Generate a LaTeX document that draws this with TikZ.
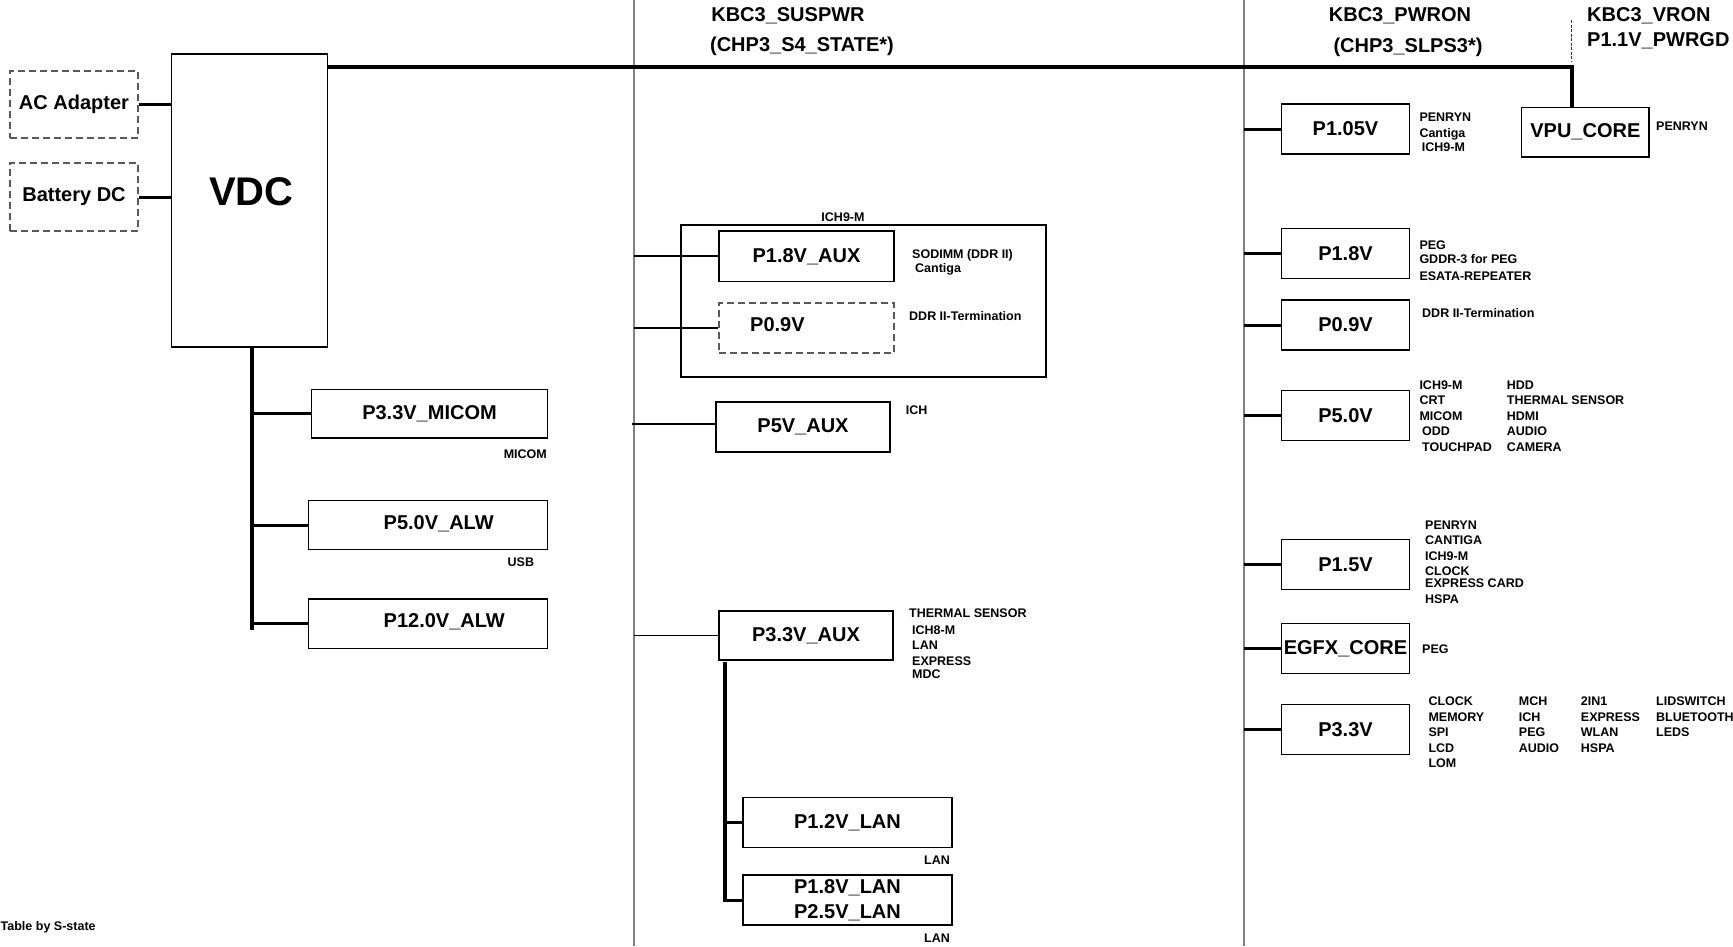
\documentclass[tikz,border=0pt]{standalone}
\usepackage{fontspec}
\setmainfont{Liberation Sans}
\newcommand{\boxfont}{\fontsize{20}{24.6}\selectfont\bfseries}
\newcommand{\lblfont}{\fontsize{12.5}{15}\selectfont\bfseries}
\newcommand{\vdcfont}{\fontsize{40}{44}\selectfont\bfseries}
\begin{document}
\begin{tikzpicture}[x=1pt,y=-1pt,
  box/.style={draw=black, line width=1.3pt, fill=white, inner sep=0pt, font=\boxfont},
  dbox/.style={box, draw=black!65, dash pattern=on 7pt off 4pt},
  rbox/.style={box, minimum width=127.6pt, minimum height=50pt},
  lbl/.style={inner sep=0pt, anchor=base west, font=\lblfont},
  ttl/.style={inner sep=0pt, anchor=base, font=\boxfont},
  colline/.style={draw=black!50, line width=1.2pt},
  wiretwo/.style={line width=1.8pt},
  wirethree/.style={line width=3pt},
  busline/.style={line width=4pt}]
\useasboundingbox (0,0) rectangle (1733,946);
\fill[white] (0,0) rectangle (1733,946);

% column separators
\coordinate (colAt) at (634,0); \coordinate (colAb) at (634,946);
\coordinate (colBt) at (1244,0); \coordinate (colBb) at (1244,946);
\draw[colline] (colAt) -- (colAb);
\draw[colline] (colBt) -- (colBb);

% titles
\node[ttl] (t1) at (788,21.7) {KBC3\_SUSPWR};
\node[ttl] (t2) at (802,51) {(CHP3\_S4\_STATE*)};
\node[ttl] (t3) at (1400,21.7) {KBC3\_PWRON};
\node[ttl] (t4) at (1408,52) {(CHP3\_SLPS3*)};
\node[ttl, anchor=base west] (t5) at (1587,21.7) {KBC3\_VRON};
\node[ttl, anchor=base west] (t6) at (1587,46.7) {P1.1V\_PWRGD};

% left part
\node[dbox, minimum width=128pt, minimum height=67pt] (ac) at (74,104.5) {AC Adapter};
\node[dbox, minimum width=128pt, minimum height=68pt] (bat) at (74,197) {Battery DC};
\node[box, minimum width=156pt, minimum height=293pt] (vdc) at (249.5,200.5) {};
\node[inner sep=0pt, font=\vdcfont] (vdctext) at (251.5,192) {VDC};

\node[box, minimum width=236pt, minimum height=48.3pt] (micom) at (429.5,413.9) {P3.3V\_MICOM};
\node[box, minimum width=239pt, minimum height=49pt] (alw5) at (428,525.2) {};
\node[inner sep=0pt, anchor=west, font=\boxfont] (alw5t) at (383.5,523.7) {P5.0V\_ALW};
\node[box, minimum width=239pt, minimum height=49.5pt] (alw12) at (428,623.75) {};
\node[inner sep=0pt, anchor=west, font=\boxfont] (alw12t) at (383.5,621.7) {P12.0V\_ALW};
\node[lbl, anchor=base east] (lmicom) at (547,458.9) {MICOM};
\node[lbl] (lusb) at (507.5,566.9) {USB};
\node[lbl] (ltable) at (0.5,930.8) {Table by S-state};

\draw[wirethree] (ac.east) -- (ac.east -| vdc.west);
\draw[wirethree] (bat.east) -- (bat.east -| vdc.west);
\coordinate (trL) at (252,630);
\draw[line width=4.5pt] (vdc.south -| trL) -- (trL);
\draw[wirethree] (trL |- micom.west) -- (micom.west);
\draw[wirethree] (trL |- alw5.west) -- (alw5.west);
\draw[wirethree] (trL |- alw12.west) -- (alw12.west);

% main bus
\node[box, minimum width=127.3pt, minimum height=49.7pt] (vpu) at (1585.35,132.15) {VPU\_CORE};
\coordinate (busR) at (1571.7,66.7);
\draw[busline] (vdc.east |- busR) -- (busR) -- (busR |- vpu.north);
\coordinate (vr1) at (1571.7,20); \coordinate (vr2) at (1571.7,62);
\draw[black!80, line width=1pt, dash pattern=on 3pt off 1.5pt] (vr1) -- (vr2);
\node[lbl] (lvpu) at (1656,130.5) {PENRYN};

% middle column
\node[box, line width=1.2pt, minimum width=365pt, minimum height=152pt] (grp) at (863.5,301) {};
\node[lbl, anchor=base] (lgrp) at (843,221.2) {ICH9-M};
\node[box, minimum width=175pt, minimum height=50.7pt] (aux18) at (806.5,256.35) {P1.8V\_AUX};
\node[dbox, minimum width=175pt, minimum height=50pt] (p09m) at (806.5,328) {};
\node[inner sep=0pt, anchor=west, font=\boxfont] (p09mt) at (750,325) {P0.9V};
\node[lbl] (lsod) at (912,258.5) {SODIMM (DDR II)};
\node[lbl] (lcan) at (915,272.5) {Cantiga};
\node[lbl] (lddrm) at (909,320.2) {DDR II-Termination};
\draw[wiretwo] (colAt |- aux18.west) -- (aux18.west);
\draw[wiretwo] (colAt |- p09m.west) -- (p09m.west);

\node[box, minimum width=174pt, minimum height=50pt] (aux5) at (803,427) {P5V\_AUX};
\node[lbl] (lich) at (905.7,414) {ICH};
\coordinate (aux5s) at (632,424);
\draw[wiretwo] (aux5s) -- (aux5s -| aux5.west);

\node[box, minimum width=174pt, minimum height=49pt] (aux33) at (806,635.5) {P3.3V\_AUX};
\draw[wiretwo] (colAt |- aux33.west) -- (aux33.west);
\node[lbl] (la1) at (909,617.5) {THERMAL SENSOR};
\node[lbl] (la2) at (912,634) {ICH8-M};
\node[lbl] (la3) at (912,649.5) {LAN};
\node[lbl] (la4) at (912,665) {EXPRESS};
\node[lbl] (la5) at (912,678.5) {MDC};

\node[box, minimum width=209pt, minimum height=49.8pt] (lan12) at (847.5,822.6) {P1.2V\_LAN};
\node[box, minimum width=209pt, minimum height=50pt, align=center] (lan18) at (847.5,900) {P1.8V\_LAN\\P2.5V\_LAN};
\node[lbl] (llan1) at (924,864.5) {LAN};
\node[lbl] (llan2) at (924,942.5) {LAN};
\coordinate (lanT) at (725,662);
\coordinate (lanB) at (725,901.5);
\draw[line width=3.5pt] (lanT) -- (lanB);
\draw[wirethree] (lanB |- lan12.west) -- (lan12.west);
\draw[wirethree] (lanB |- lan18.west) -- (lan18.west);

% right column
\node[rbox] (p105) at (1345.5,129) {P1.05V};
\node[rbox] (p18) at (1345.5,253.5) {P1.8V};
\node[rbox] (p09r) at (1345.5,325) {P0.9V};
\node[rbox] (p50) at (1345.5,415.15) {P5.0V};
\node[rbox] (p15) at (1345.5,564.5) {P1.5V};
\node[rbox] (egfx) at (1345.5,648.5) {EGFX\_CORE};
\node[rbox] (p33) at (1345.5,729.3) {P3.3V};
\foreach \n in {p105,p18,p09r,p50,p15,egfx,p33}
  \draw[wirethree] (colBt |- \n.west) -- (\n.west);

\node[lbl] (r1a) at (1419.3,121.2) {PENRYN};
\node[lbl] (r1b) at (1419.3,137.2) {Cantiga};
\node[lbl] (r1c) at (1421.7,151.8) {ICH9-M};
\node[lbl] (r2a) at (1419.3,249.5) {PEG};
\node[lbl] (r2b) at (1419.3,263.8) {GDDR-3 for PEG};
\node[lbl] (r2c) at (1419.3,280.2) {ESATA-REPEATER};
\node[lbl] (r3a) at (1422,317.2) {DDR II-Termination};

\foreach \t/\dx [count=\i] in {ICH9-M/0,CRT/0,MICOM/0,ODD/2.7,TOUCHPAD/2.7}
  \node[lbl] (r5a\i) at (1419.3+\dx,389.2+15.5*\i-15.5) {\t};
\foreach \t [count=\i] in {HDD,THERMAL SENSOR,HDMI,AUDIO,CAMERA}
  \node[lbl] (r5b\i) at (1506.7,389.2+15.5*\i-15.5) {\t};

\foreach \t/\yy [count=\i] in {PENRYN/529.2,CANTIGA/544.5,ICH9-M/560.2,CLOCK/575.2,EXPRESS CARD/587.8,HSPA/603.2}
  \node[lbl] (r6\i) at (1425,\yy) {\t};

\node[lbl] (r7) at (1422,653.2) {PEG};

\foreach \t [count=\i] in {CLOCK,MEMORY,SPI,LCD,LOM}
  \node[lbl] (r8a\i) at (1428.3,705.8+15.5*\i-15.5) {\t};
\foreach \t [count=\i] in {MCH,ICH,PEG,AUDIO}
  \node[lbl] (r8b\i) at (1518.7,705.8+15.5*\i-15.5) {\t};
\foreach \t [count=\i] in {2IN1,EXPRESS,WLAN,HSPA}
  \node[lbl] (r8c\i) at (1580.7,705.8+15.5*\i-15.5) {\t};
\foreach \t [count=\i] in {LIDSWITCH,BLUETOOTH,LEDS}
  \node[lbl] (r8d\i) at (1656,705.8+15.5*\i-15.5) {\t};
\end{tikzpicture}
\end{document}
